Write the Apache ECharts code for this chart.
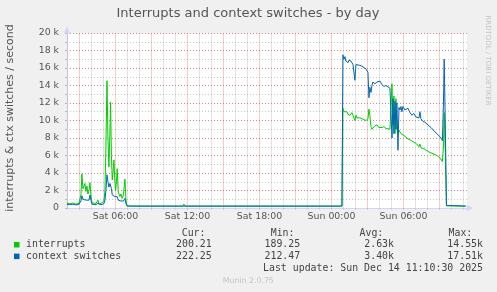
<!DOCTYPE html>
<html>
<head>
<meta charset="utf-8">
<script src="https://cdn.jsdelivr.net/npm/echarts@6.0.0/dist/echarts.min.js"></script>
<style>
html, body { margin:0; padding:0; background:#f0f0f0; }
#chart { width:497px; height:292px; }
</style>
</head>
<body>
<div id="chart"></div>
<script>
// x values: hours since Sat 00:00
const hours = [
  1.95, 2.20, 2.45, 2.70, 2.95, 3.12, 3.20, 3.29, 3.37, 3.45,
  3.54, 3.62, 3.70, 3.79, 3.87, 3.95, 4.04, 4.20, 4.37, 4.54,
  4.62, 4.79, 4.95, 5.04, 5.12, 5.20, 5.29, 5.37, 5.45, 5.54,
  5.59, 5.66, 5.73, 5.79, 5.87, 5.95, 6.01, 6.08, 6.14, 6.23,
  6.37, 6.45, 6.56, 6.66, 6.79, 6.87, 6.95, 7.20, 11.62, 11.70,
  11.79,
  24.87, 24.95, 25.04, 25.12, 25.20, 25.29, 25.37, 25.45, 25.54, 25.62,
  25.70, 25.79, 25.87, 25.95, 26.04, 26.12, 26.20, 26.37, 26.54, 26.70,
  26.87, 27.04, 27.12, 27.20, 27.29, 27.37, 27.45, 27.62, 27.79, 27.95,
  28.04, 28.20, 28.37, 28.54, 28.70, 28.87, 28.95, 29.04, 29.12, 29.20,
  29.29, 29.37, 29.45, 29.54, 29.62, 29.70, 29.79, 29.87, 29.95, 30.12,
  30.20, 30.37, 30.54, 30.70, 30.87, 31.04, 31.20, 31.29, 31.37, 31.45,
  31.62, 31.79, 31.95, 32.12, 32.29, 32.45, 32.62, 32.79, 32.95, 33.12,
  33.24, 33.33, 33.39, 33.49, 33.58, 33.70, 35.18
];
const interrupts = [
  550, 480, 560, 450, 520, 1500, 3900, 2200, 2000, 2800,
  1900, 2500, 1600, 2000, 2900, 1500, 600, 420, 520, 900,
  420, 520, 450, 800, 2000, 7000, 14550, 8000, 4700, 9000,
  12100, 6000, 3200, 4000, 5500, 3000, 2000, 3000, 4500, 1800,
  1300, 1600, 1100, 1500, 3300, 900, 250, 210, 200, 450,
  205,
  200, 11400, 11000, 11200, 10900, 11000, 10700, 10900, 10600, 10800,
  10900, 10600, 10700, 10000, 10600, 10300, 10500, 10300, 10200, 10000,
  10000, 10200, 11300, 10600, 9300, 9000, 9200, 9400, 9500, 9200,
  9400, 9200, 9300, 9100, 9200, 9000, 9100, 14200, 9500, 12800,
  8500, 12500, 9000, 8400, 8900, 8700, 8500, 8600, 8500, 8200,
  8300, 7900, 7800, 7600, 7500, 7400, 7300, 7000, 7300, 6900,
  6800, 6700, 6600, 6400, 6300, 6200, 6100, 6000, 5800, 5600,
  5300, 7000, 10900, 6000, 250, 200, 200
];
const contextSwitches = [
  420, 380, 430, 360, 400, 800, 1400, 1000, 900, 1200,
  900, 1000, 800, 900, 1500, 900, 420, 330, 380, 550,
  330, 380, 340, 500, 900, 2000, 3800, 3000, 2400, 2800,
  3000, 2200, 1500, 1600, 1700, 1300, 1100, 1200, 1300, 900,
  700, 800, 700, 800, 1100, 500, 250, 225, 222, 250,
  222,
  222, 17510, 17000, 17300, 16800, 16900, 16600, 16900, 16700, 16800,
  16600, 16400, 16500, 14600, 16400, 16500, 16400, 16300, 16200, 16000,
  15900, 15500, 12600, 13800, 13200, 14000, 14400, 14200, 14400, 14300,
  14500, 14100, 13900, 14000, 13800, 13700, 13500, 8000, 12500, 8500,
  12200, 9000, 12000, 6600, 11500, 11200, 11600, 11000, 11600, 11200,
  11000, 11400, 10900, 10600, 10800, 10400, 10600, 10300, 11000, 10200,
  9900, 9800, 9600, 9400, 9200, 9000, 8700, 8500, 8300, 8000,
  7700, 12000, 17000, 9000, 300, 222, 222
];
const xMinorHours = [2,4,5,7,8,10,11,13,14,16,17,19,20,22,23,25,26,28,29,31,32,34,35];
const xMajorHours = [3,6,9,12,15,18,21,24,27,30,33];
const xLabelHours = [6,12,18,24,30];
const dayNames = ['Sat','Sun'];
const seriesNames = ['interrupts','context switches'];
const statHeaders = ['Cur:','Min:','Avg:','Max:'];
const interruptStats = ['200.21','189.25','2.63k','14.55k'];
const contextStats = ['222.25','212.47','3.40k','17.51k'];
const titleText = 'Interrupts and context switches - by day';
const yAxisTitle = 'interrupts & ctx switches / second';
const lastUpdate = 'Last update: Sun Dec 14 11:10:30 2025';
const colors = ['#00cc00','#0066b3'];

const X_MIN = 1.9583, X_MAX = 35.2917, Y_MAX = 20000;
const gridGrey = 'rgba(130,130,130,0.45)';
const gridRed = 'rgba(235,60,60,0.45)';
const vGridGrey = 'rgba(130,130,130,0.22)';
const vGridRed = 'rgba(235,60,60,0.26)';
const axisCol = '#cfd6f8';
const fontSans = 'DejaVu Sans';
const fontMono = 'DejaVu Sans Mono';

const chart = echarts.init(document.getElementById('chart'), null, {renderer:'canvas'});

const headerRight = [205.5, 294.5, 383.3, 472.3];
const valueRight = [211.7, 300.2, 394.0, 483.0];
const rowY = [233, 244.7, 256.3];

const graphics = [
  {type:'text', x:248, y:13.5, style:{text:titleText, fontSize:13, fontFamily:fontSans, fill:'#555', align:'center', verticalAlign:'middle'}},
  {type:'text', x:10, y:118, rotation:Math.PI/2, style:{text:yAxisTitle, fontSize:11, fontFamily:fontSans, fill:'#555', align:'center', verticalAlign:'middle'}},
  {type:'text', x:488.3, y:60.5, rotation:-Math.PI/2, style:{text:'RRDTOOL / TOBI OETIKER', fontSize:7, fontFamily:fontSans, fill:'#c4c4c4', align:'center', verticalAlign:'middle'}},
  {type:'text', x:248.3, y:281, style:{text:'Munin 2.0.75', fontSize:7.8, fontFamily:fontSans, fill:'#c4c4c4', align:'center', verticalAlign:'middle'}},
  {type:'text', x:483, y:268, style:{text:lastUpdate, fontSize:9.9, fontFamily:fontMono, fill:'#444', align:'right', verticalAlign:'middle'}}
];
statHeaders.forEach((h, i) => graphics.push({type:'text', x:headerRight[i], y:rowY[0], style:{text:h, fontSize:9.9, fontFamily:fontMono, fill:'#444', align:'right', verticalAlign:'middle'}}));
[interruptStats, contextStats].forEach((stats, r) => {
  graphics.push({type:'rect', shape:{x:14, y:rowY[r+1]-2.7, width:5.5, height:5.5}, style:{fill:colors[r]}});
  graphics.push({type:'text', x:26, y:rowY[r+1], style:{text:seriesNames[r], fontSize:9.9, fontFamily:fontMono, fill:'#444', align:'left', verticalAlign:'middle'}});
  stats.forEach((v, i) => graphics.push({type:'text', x:valueRight[i], y:rowY[r+1], style:{text:v, fontSize:9.9, fontFamily:fontMono, fill:'#444', align:'right', verticalAlign:'middle'}}));
});

const fmtHour = v => dayNames[Math.floor(v/24)] + ' ' + String(v % 24).padStart(2,'0') + ':00';

// vertical grid lines: one line element per hour value, placed through the axis scale
const vGrid = (list, color) => ({
  type:'custom', z:4,
  data:list.map(h => [h, 0]),
  renderItem:(params, api) => {
    const bot = api.coord([api.value(0), 0]);
    const top = api.coord([api.value(0), Y_MAX]);
    return {type:'line', shape:{x1:bot[0], y1:top[1], x2:bot[0], y2:bot[1] + 2}, style:{stroke:color, lineWidth:1}};
  }
});

const option = {
  animation:false,
  backgroundColor:'#f0f0f0',
  grid:{left:67, right:30, top:33, bottom:84, show:true, backgroundColor:'#ffffff', borderWidth:0, outerBoundsMode:'none'},
  xAxis:[
    {type:'value', min:X_MIN, max:X_MAX, position:'bottom',
      axisLine:{show:true, onZero:false, lineStyle:{color:axisCol, width:1}, symbol:['none','triangle'], symbolSize:[6,7], symbolOffset:[0,3]},
      axisTick:{show:false},
      splitLine:{show:false},
      axisLabel:{show:true, customValues:xLabelHours, formatter:fmtHour, color:'#555', fontSize:9.4, fontFamily:fontSans, margin:4}}
  ],
  yAxis:[
    {type:'value', min:0, max:Y_MAX, interval:1000, position:'left',
      axisLine:{show:true, onZero:false, lineStyle:{color:axisCol, width:1}, symbol:['none','triangle'], symbolSize:[6,7], symbolOffset:[0,3]},
      axisTick:{show:true, length:2, lineStyle:{color:'#b8b8b8'}},
      splitLine:{show:true, lineStyle:{color:gridGrey, width:1, type:[1,2]}},
      axisLabel:{show:false}},
    {type:'value', min:0, max:Y_MAX, interval:2000, position:'left',
      axisLine:{show:false, onZero:false},
      axisTick:{show:false},
      splitLine:{show:true, lineStyle:{color:gridRed, width:1, type:[1,2]}},
      axisLabel:{show:true, formatter:v => v === 0 ? '0' : (v/1000) + ' k', color:'#555', fontSize:9.4, fontFamily:fontSans, margin:8}}
  ],
  series:[
    vGrid(xMinorHours, vGridGrey),
    vGrid(xMajorHours, vGridRed),
    {type:'line', name:seriesNames[0], data:hours.map((h,i)=>[h, interrupts[i]]),
      symbol:'none', showSymbol:false, lineStyle:{width:1, color:colors[0]}, itemStyle:{color:colors[0]}, z:5},
    {type:'line', name:seriesNames[1], data:hours.map((h,i)=>[h, contextSwitches[i]]),
      symbol:'none', showSymbol:false, lineStyle:{width:1, color:colors[1]}, itemStyle:{color:colors[1]}, z:6}
  ],
  graphic:graphics
};
chart.setOption(option);
</script>
</body>
</html>
